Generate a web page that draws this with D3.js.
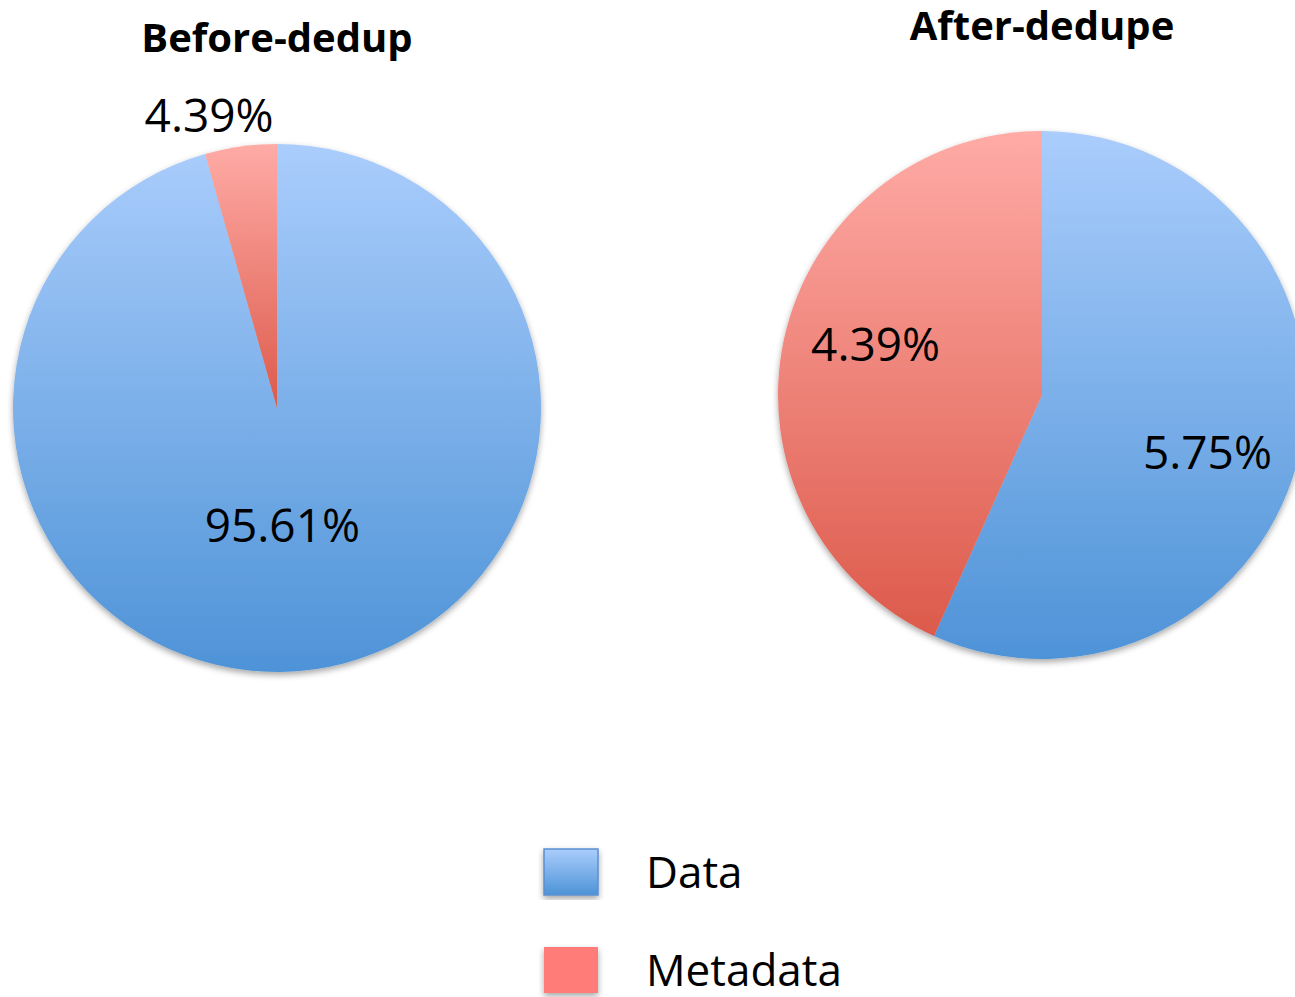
<!DOCTYPE html>
<html>
<head>
<meta charset="utf-8">
<script src="https://cdn.jsdelivr.net/npm/d3@7"></script>
<style>
  body { margin: 0; background: #fff; }
  svg { display: block; font-family: "Open Sans", sans-serif; }
</style>
</head>
<body>
<div id="chart"></div>
<script>
const pieTitles = ['Before-dedup', 'After-dedupe'];
const categories = ['Data', 'Metadata'];
const dataValues = [95.61, 5.75];
const metadataValues = [4.39, 4.39];

const width = 1295;
const height = 997;
const radius = 264;

const svg = d3.select('#chart')
  .append('svg')
  .attr('width', width)
  .attr('height', height);

const defs = svg.append('defs');

const filter = defs.append('filter')
  .attr('id', 'shadow')
  .attr('x', '-10%').attr('y', '-10%')
  .attr('width', '120%').attr('height', '120%');
filter.append('feDropShadow')
  .attr('dx', 0).attr('dy', 3)
  .attr('stdDeviation', 3)
  .attr('flood-color', '#000')
  .attr('flood-opacity', 0.35);

function addGradient(id, top, bottom) {
  const g = defs.append('linearGradient')
    .attr('id', id)
    .attr('x1', 0).attr('y1', 0)
    .attr('x2', 0).attr('y2', 1);
  g.append('stop').attr('offset', '0%').attr('stop-color', top);
  g.append('stop').attr('offset', '100%').attr('stop-color', bottom);
}
addGradient('grad-Data', '#aacdfc', '#4e93d7');
addGradient('grad-Metadata', '#ffaba6', '#dc5a4b');

// pie centres
const xScale = d3.scalePoint()
  .domain(pieTitles)
  .range([277, 1042]);
const centerY = [408, 395];
const titleY = [52, 40];

const pie = d3.pie().sort(null).value((d) => d.value);
const arc = d3.arc().innerRadius(0).outerRadius(radius);

// label placement, roughly like excel's best fit
function labelPos(d, total) {
  const frac = d.data.value / total;
  const a = (d.startAngle + d.endAngle) / 2;
  let r = radius * 0.66;
  let dx = 0, dy = 0;
  if (frac > 0.9) { r = radius * 0.45; dx = -11; }
  else if (frac < 0.1) { r = radius * 1.1; dx = -28; dy = -4; }
  else { dy = Math.sin(a) > 0 ? 22 : -14; dx = Math.sin(a) > 0 ? -5 : 4; }
  return [Math.sin(a) * r + dx, -Math.cos(a) * r + dy];
}

pieTitles.forEach((title, i) => {
  const slices = categories.map((c, j) => ({
    name: c,
    value: j === 0 ? dataValues[i] : metadataValues[i],
  }));
  const total = d3.sum(slices, (d) => d.value);

  const g = svg.append('g')
    .attr('transform', `translate(${xScale(title)}, ${centerY[i]})`);

  g.append('g')
    .attr('filter', 'url(#shadow)')
    .selectAll('path')
    .data(pie(slices))
    .join('path')
    .attr('d', arc)
    .attr('fill', (d) => `url(#grad-${d.data.name})`);

  g.selectAll('text.label')
    .data(pie(slices))
    .join('text')
    .attr('class', 'label')
    .attr('text-anchor', 'middle')
    .attr('font-size', 46)
    .attr('fill', '#000')
    .attr('transform', (d) => {
      const [x, y] = labelPos(d, total);
      return `translate(${x}, ${y + 16})`;
    })
    .text((d) => d.data.value.toFixed(2) + '%');

  svg.append('text')
    .attr('x', xScale(title))
    .attr('y', titleY[i])
    .attr('text-anchor', 'middle')
    .attr('font-size', 40)
    .attr('font-weight', 'bold')
    .text(title);
});

// legend
const legendY = d3.scalePoint()
  .domain(categories)
  .range([872, 970]);

const legend = svg.append('g')
  .selectAll('g')
  .data(categories)
  .join('g')
  .attr('transform', (d) => `translate(544, ${legendY(d)})`);

legend.append('rect')
  .attr('x', 0)
  .attr('y', -23)
  .attr('width', 54)
  .attr('height', 46)
  .attr('filter', 'url(#shadow)')
  .attr('fill', (d) => d === 'Data' ? 'url(#grad-Data)' : '#ff7c78')
  .attr('stroke', (d) => d === 'Data' ? '#5b8fcf' : 'none')
  .attr('stroke-width', 1.5);

legend.append('text')
  .attr('x', 102)
  .attr('y', 16)
  .attr('font-size', 44)
  .text((d) => d);
</script>
</body>
</html>
